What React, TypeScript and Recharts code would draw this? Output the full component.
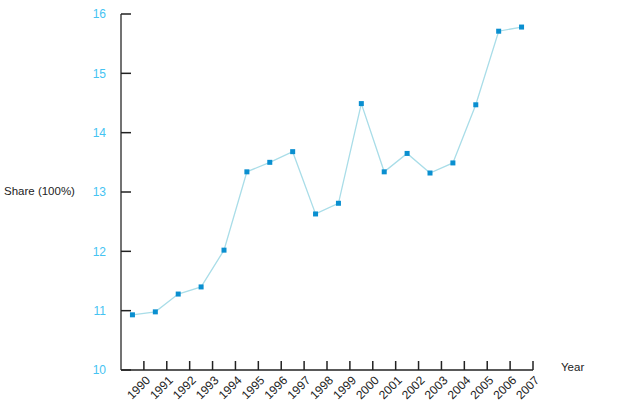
import React from 'react';
import { LineChart, Line, XAxis, YAxis } from 'recharts';

const years = [1990, 1991, 1992, 1993, 1994, 1995, 1996, 1997, 1998, 1999, 2000, 2001, 2002, 2003, 2004, 2005, 2006, 2007];
const share = [10.93, 10.98, 11.28, 11.4, 12.02, 13.34, 13.5, 13.68, 12.63, 12.81, 14.49, 13.34, 13.65, 13.32, 13.49, 14.47, 15.71, 15.78];
const yTicks = [10, 11, 12, 13, 14, 15, 16];

// each value sits in the middle of the band that ends at its year tick
const data = years.map((year, i) => ({ pos: year - 0.5, share: share[i] }));

const FONT = '"Liberation Sans", Arial, sans-serif';

const SquareDot = (props: any) => {
  const { cx, cy } = props;
  if (cx == null || cy == null) return null;
  return <rect x={cx - 2.5} y={cy - 2.5} width={5} height={5} fill="#0a8fd0" />;
};

const YearTick = (props: any) => {
  const { x, payload } = props;
  return (
    <text
      x={x + 7}
      y={381}
      transform={`rotate(-45, ${x + 7}, 381)`}
      textAnchor="end"
      fontSize={12}
      fontFamily={FONT}
      fill="#222"
    >
      {payload.value}
    </text>
  );
};

export default function App() {
  return (
    <div style={{ position: 'absolute', left: 0, top: 0, background: '#fff' }}>
      <LineChart width={626} height={413} data={data} margin={{ top: 14, right: 93, bottom: 0, left: 0 }}>
        <XAxis
          dataKey="pos"
          type="number"
          domain={[1989, 2007]}
          ticks={years}
          interval={0}
          height={43}
          tickSize={-9}
          axisLine={{ stroke: '#222', strokeWidth: 1.5 }}
          tickLine={{ stroke: '#222', strokeWidth: 1.5 }}
          tick={<YearTick />}
        />
        <YAxis
          type="number"
          domain={[10, 16]}
          ticks={yTicks}
          width={121}
          tickSize={-10}
          tickMargin={25}
          axisLine={{ stroke: '#444', strokeWidth: 1.5 }}
          tickLine={{ stroke: '#222', strokeWidth: 1.5 }}
          tick={{ fill: '#45c3f2', fontSize: 12, fontFamily: FONT }}
        />
        <Line
          type="linear"
          dataKey="share"
          stroke="#a9dde8"
          strokeWidth={1.3}
          dot={<SquareDot />}
          activeDot={false}
          isAnimationActive={false}
        />
        <text x={4} y={195} fontSize={11.5} fontFamily={FONT} fill="#222">Share (100%)</text>
        <text x={561} y={371} fontSize={11.5} fontFamily={FONT} fill="#222">Year</text>
      </LineChart>
    </div>
  );
}
